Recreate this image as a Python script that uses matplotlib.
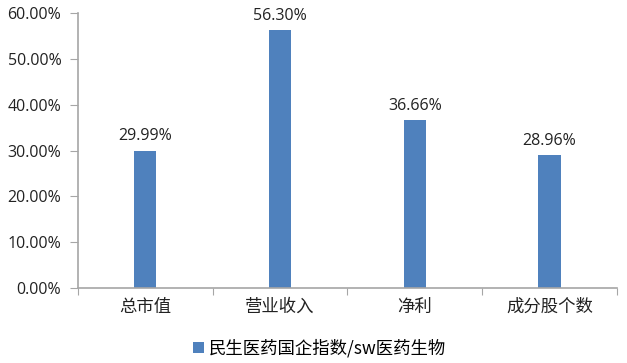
import numpy as np
import matplotlib
matplotlib.use("Agg")
from matplotlib import pyplot as plt
from matplotlib.ticker import FuncFormatter

plt.rcParams['font.family'] = ['Noto Sans CJK SC', 'DejaVu Sans']

categories = ["总市值", "营业收入", "净利", "成分股个数"]
values = [29.99, 56.30, 36.66, 28.96]
series_name = "民生医药国企指数/sw医药生物"

bar_color = "#4F81BD"
axis_color = "#A6A6A6"
num_font = ["Open Sans", "DejaVu Sans"]

fig = plt.figure(figsize=(6.27, 3.63), dpi=100)
ax = fig.add_axes([0.1244, 0.2066, 0.8596, 0.7574])

x = np.arange(len(categories))
bars = ax.bar(x, values, width=0.165, color=bar_color, label=series_name, zorder=2)

for xi, v in zip(x, values):
    ax.text(xi, v + 1.4, f"{v:.2f}%", ha="center", va="bottom", fontsize=11.5,
            color="#222222", family=num_font)

ax.set_xlim(-0.5, len(categories) - 0.5)
ax.set_ylim(0, 60)
ax.set_yticks(np.arange(0, 61, 10))
ax.yaxis.set_major_formatter(FuncFormatter(lambda v, p: f"{v:.2f}%"))

# boundary ticks without labels, labels at category centres
ax.set_xticks(np.arange(-0.5, len(categories), 1.0))
ax.set_xticklabels([])
ax.set_xticks(x, minor=True)
ax.set_xticklabels(categories, minor=True)
ax.tick_params(axis="x", which="major", length=5, color=axis_color, direction="out")
ax.tick_params(axis="x", which="minor", length=0, pad=7, labelsize=12.5, labelcolor="#222222")
ax.tick_params(axis="y", length=6, color=axis_color, labelsize=11.5, labelcolor="#222222", pad=6)
for lab in ax.get_yticklabels():
    lab.set_family(num_font)

for s in ["top", "right"]:
    ax.spines[s].set_visible(False)
for s in ["left", "bottom"]:
    ax.spines[s].set_color(axis_color)
    ax.spines[s].set_linewidth(1.2)

leg = fig.legend(handles=[bars], labels=[series_name], loc="center",
                 bbox_to_anchor=(0.51, 0.04), frameon=False, fontsize=12.5,
                 handlelength=0.6, handleheight=0.6, handletextpad=0.3)

fig.savefig("out.png", dpi=100)
